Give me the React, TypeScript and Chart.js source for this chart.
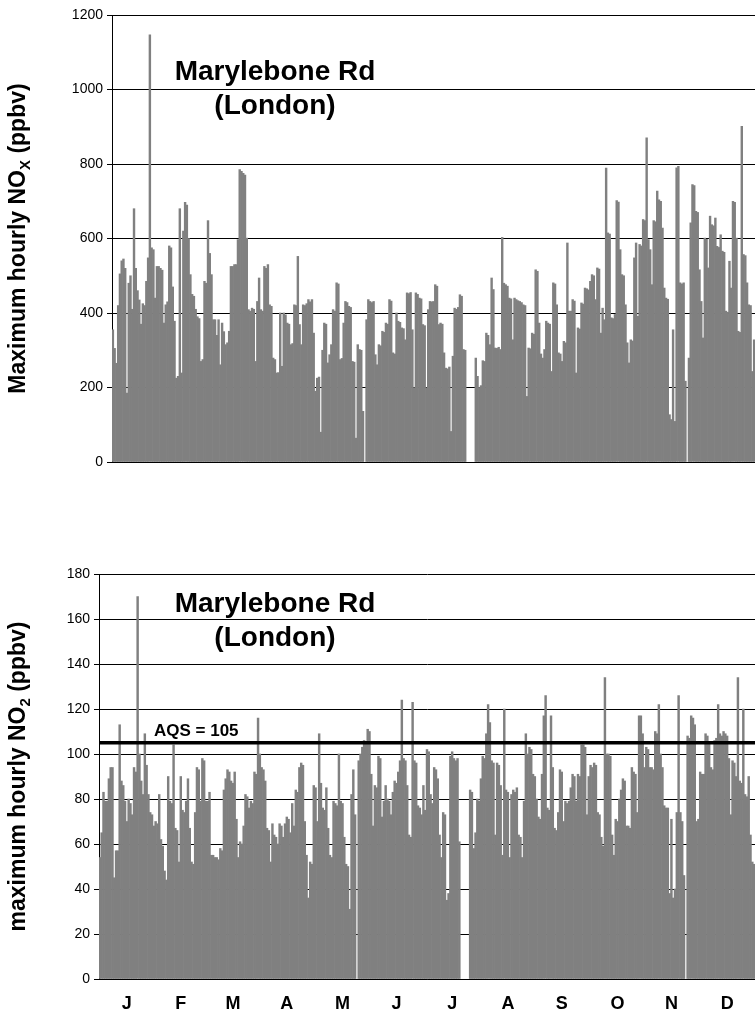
import React, { useEffect, useRef } from 'react';
import { Chart, registerables } from 'chart.js';

Chart.register(...registerables);

const FONT = '"Liberation Sans", Arial, Helvetica, sans-serif';

// ---------- Daily maximum hourly NOx (ppbv), Marylebone Rd ----------
const noxJan = [355, 305, 265, 420, 505, 540, 545, 520, 185, 480, 500, 410, 680, 520, 460, 435, 370, 425, 420, 485, 548, 1147, 575, 570, 440, 525, 525, 520, 515, 373, 422];
const noxFeb = [430, 580, 575, 470, 378, 225, 230, 680, 239, 620, 697, 690, 600, 503, 450, 445, 410, 390, 385, 270, 275, 485, 480, 648, 560, 503, 382, 382];
const noxMar = [340, 382, 261, 373, 350, 315, 320, 351, 525, 525, 530, 530, 597, 785, 780, 775, 770, 601, 409, 405, 413, 410, 270, 431, 494, 409, 405, 525, 520, 530, 422];
const noxApr = [418, 279, 275, 239, 240, 400, 257, 400, 395, 373, 370, 315, 318, 422, 420, 552, 369, 315, 422, 420, 425, 436, 430, 436, 346, 190, 225, 228, 80, 300];
const noxMay = [373, 370, 266, 288, 315, 409, 405, 481, 478, 275, 278, 373, 431, 428, 418, 415, 270, 268, 64, 315, 302, 300, 136, null, 382, 436, 431, 428, 431, 288, 261];
const noxJun = [315, 312, 351, 348, 373, 370, 436, 432, 293, 290, 400, 378, 375, 360, 358, 328, 454, 452, 455, 355, 199, 454, 450, 440, 438, 369, 366, 199, 409, 431];
const noxJul = [430, 431, 476, 472, 369, 373, 370, 293, 252, 250, 255, 82, 284, 413, 410, 415, 449, 445, 302, 300, null, null, null, null, null, 279, 230, 200, 205, 272, 270];
const noxAug = [346, 340, 315, 494, 463, 306, 305, 308, 302, 603, 480, 476, 472, 440, 438, 328, 440, 436, 433, 431, 428, 422, 420, 176, 306, 304, 346, 343, 516, 512, 373];
const noxSep = [290, 279, 302, 378, 373, 370, 243, 481, 478, 422, 293, 290, 270, 324, 320, 588, 405, 405, 436, 432, 239, 360, 357, 427, 424, 467, 465, 462, 485, 503];
const noxOct = [500, 436, 521, 518, 346, 413, 382, 789, 615, 612, 387, 385, 396, 702, 698, 570, 503, 500, 422, 320, 266, 328, 325, 548, 588, 391, 584, 580, 651, 648, 870];
const noxNov = [597, 570, 476, 648, 645, 727, 704, 700, 628, 467, 440, 437, 127, 114, 355, 109, 790, 794, 481, 478, 481, 217, null, 279, 642, 745, 742, 673, 670, 516];
const noxDec = [431, 333, 601, 598, 521, 660, 637, 634, 655, 579, 576, 610, 566, 563, 405, 402, 539, 467, 700, 697, 601, 351, 348, 901, 557, 554, 481, 422, 420, 243, 328];

// ---------- Daily maximum hourly NO2 (ppbv), Marylebone Rd ----------
const no2Jan = [54, 65, 83, 79, 79, 89, 94, 94, 45, 57, 57, 113, 88, 86, 79, 70, 80, 78, 73, 94, 92, 170, 100, 88, 82, 109, 95, 82, 74, 73, 68];
const no2Feb = [70, 69, 82, 62, 59, 48, 44, 90, 79, 78, 104, 67, 66, 52, 90, 75, 74, 79, 89, 67, 52, 51, 74, 94, 93, 79, 98, 97];
const no2Mar = [79, 79, 83, 55, 55, 54, 54, 53, 58, 57, 84, 89, 93, 92, 88, 87, 92, 71, 54, 61, 60, 68, 82, 81, 76, 79, 78, 92, 91, 116, 100];
const no2Apr = [94, 93, 88, 67, 66, 52, 69, 64, 63, 60, 69, 68, 63, 69, 72, 71, 65, 78, 68, 84, 83, 94, 96, 95, 70, 55, 36, 52, 51, 86];
const no2May = [85, 70, 109, 87, 76, 75, 85, 67, 55, 54, 79, 78, 77, 100, 79, 78, 63, 51, 50, 31, 82, 93, 73, null, 97, 100, 103, 106, 105, 111, 110];
const no2Jun = [91, 68, 86, 85, 99, 98, 72, 79, 86, 80, 79, 73, 83, 88, 87, 92, 97, 124, 98, 97, 86, 64, 63, 123, 97, 96, 77, 76, 73, 86];
const no2Jul = [75, 102, 101, 82, 78, 94, 93, 89, 64, 54, 74, 73, 35, 38, 99, 101, 98, 97, 98, 61, null, null, null, null, null, 84, 83, 58, 65, 80, 79];
const no2Aug = [89, 99, 98, 109, 122, 114, 97, 96, 64, 96, 95, 86, 55, 120, 84, 83, 54, 82, 84, 83, 85, 64, 63, 54, 79, 109, 100, 103, 102, 91, 90];
const no2Sep = [80, 72, 71, 91, 117, 126, 76, 75, 117, 94, 67, 66, 74, 93, 92, 70, 79, 78, 79, 85, 91, 90, 79, 91, 90, 104, 104, 103, 73, 90];
const no2Oct = [95, 94, 96, 95, 74, 73, 63, 59, 134, 100, 100, 99, 64, 55, 71, 70, 80, 84, 89, 88, 68, 68, 67, 94, 92, 91, 74, 117, 117, 109, 94];
const no2Nov = [103, 102, 94, 94, 93, 110, 109, 122, 100, 94, 77, 76, 76, 38, 71, 36, 40, 74, 126, 74, 70, 46, null, 108, 107, 117, 116, 113, 70, 71];
const no2Dec = [92, 91, 91, 109, 108, 105, 94, 93, 106, 107, 122, 109, 108, 110, 109, 108, 98, 73, 97, 96, 90, 134, 88, 87, 120, 82, 81, 90, 64, 52, 51];

// ---------- Axis / label data ----------
const monthLetters = ['J', 'F', 'M', 'A', 'M', 'J', 'J', 'A', 'S', 'O', 'N', 'D'];
const monthTickDays = [15, 45, 74, 104, 135, 165, 196, 227, 257, 288, 318, 349];
const noxAxis = { max: 1200, step: 200 };
const no2Axis = { max: 180, step: 20 };
const AQS = 105;
const siteTitle = ['Marylebone Rd', '(London)'];

const nox = [...noxJan, ...noxFeb, ...noxMar, ...noxApr, ...noxMay, ...noxJun, ...noxJul, ...noxAug, ...noxSep, ...noxOct, ...noxNov, ...noxDec];
const no2 = [...no2Jan, ...no2Feb, ...no2Mar, ...no2Apr, ...no2May, ...no2Jun, ...no2Jul, ...no2Aug, ...no2Sep, ...no2Oct, ...no2Nov, ...no2Dec];
const dayLabels = nox.map((_, i) => String(i + 1));

type Part = { text: string; sub?: boolean };

function drawRotatedTitle(ctx: CanvasRenderingContext2D, parts: Part[], cx: number, cy: number, size: number) {
  ctx.save();
  ctx.translate(cx, cy);
  ctx.rotate(-Math.PI / 2);
  const mainFont = `bold ${size}px ${FONT}`;
  const subFont = `bold ${Math.round(size * 0.66)}px ${FONT}`;
  let total = 0;
  const widths = parts.map((p) => {
    ctx.font = p.sub ? subFont : mainFont;
    const w = ctx.measureText(p.text).width;
    total += w;
    return w;
  });
  let x = -total / 2;
  ctx.fillStyle = '#000';
  ctx.textAlign = 'left';
  ctx.textBaseline = 'alphabetic';
  parts.forEach((p, i) => {
    ctx.font = p.sub ? subFont : mainFont;
    ctx.fillText(p.text, x, p.sub ? size * 0.2 : 0);
    x += widths[i];
  });
  ctx.restore();
}

interface PanelCfg {
  data: (number | null)[];
  yMax: number;
  yStep: number;
  areaLeft: number;
  areaTop: number;
  xHeight: number;
  showMonths: boolean;
  yTitle: Part[];
  yTitleX: number;
  titleX: number;
  titleY: [number, number];
  aqs?: number;
}

function makeConfig(p: PanelCfg): any {
  const overlay = {
    id: 'overlay',
    afterDatasetsDraw(chart: any) {
      const ctx: CanvasRenderingContext2D = chart.ctx;
      const area = chart.chartArea;
      const yScale = chart.scales.y;
      ctx.save();
      if (p.aqs !== undefined) {
        const y = yScale.getPixelForValue(p.aqs);
        ctx.strokeStyle = '#000';
        ctx.lineWidth = 3.5;
        ctx.beginPath();
        ctx.moveTo(area.left, y);
        ctx.lineTo(area.right, y);
        ctx.stroke();
        ctx.fillStyle = '#000';
        ctx.font = `bold 17px ${FONT}`;
        ctx.textAlign = 'left';
        ctx.textBaseline = 'alphabetic';
        ctx.fillText(`AQS = ${p.aqs}`, 154, y - 7);
      }
      ctx.fillStyle = '#000';
      ctx.font = `bold 28px ${FONT}`;
      ctx.textAlign = 'center';
      ctx.textBaseline = 'alphabetic';
      ctx.fillText(siteTitle[0], p.titleX, p.titleY[0]);
      ctx.fillText(siteTitle[1], p.titleX, p.titleY[1]);
      ctx.restore();
    },
    afterDraw(chart: any) {
      const area = chart.chartArea;
      drawRotatedTitle(chart.ctx, p.yTitle, p.yTitleX, (area.top + area.bottom) / 2, 23);
    },
  };

  return {
    type: 'bar',
    data: {
      labels: dayLabels,
      datasets: [
        {
          data: p.data,
          backgroundColor: '#808080',
          borderWidth: 0,
          barPercentage: 1,
          categoryPercentage: 1,
        },
      ],
    },
    options: {
      responsive: false,
      animation: false,
      devicePixelRatio: 1,
      layout: { padding: { top: p.areaTop, right: 0, left: 0, bottom: 0 } },
      plugins: { legend: { display: false }, tooltip: { enabled: false }, title: { display: false } },
      scales: {
        x: {
          type: 'category',
          offset: true,
          grid: { display: false, drawTicks: false },
          border: { display: true, color: '#000', width: 1 },
          ticks: {
            display: p.showMonths,
            autoSkip: false,
            maxRotation: 0,
            minRotation: 0,
            padding: 14,
            color: '#000',
            font: { family: FONT, size: 18, weight: 'bold' },
            callback: (value: number) => {
              const k = monthTickDays.indexOf(value);
              return k >= 0 ? monthLetters[k] : '';
            },
          },
          afterBuildTicks: (scale: any) => {
            if (p.showMonths) scale.ticks = monthTickDays.map((v) => ({ value: v }));
          },
          afterFit: (scale: any) => {
            scale.height = p.xHeight;
          },
        },
        y: {
          type: 'linear',
          min: 0,
          max: p.yMax,
          ticks: {
            stepSize: p.yStep,
            color: '#000',
            padding: 4,
            font: { family: FONT, size: 14 },
            callback: (value: number) => String(value),
          },
          grid: { color: '#000', lineWidth: 1, tickLength: 5, drawTicks: true },
          border: { display: true, color: '#000', width: 1 },
          afterFit: (scale: any) => {
            scale.width = p.areaLeft;
          },
        },
      },
    },
    plugins: [overlay],
  };
}

export default function App() {
  const topRef = useRef<HTMLCanvasElement>(null);
  const botRef = useRef<HTMLCanvasElement>(null);

  useEffect(() => {
    const top = new Chart(
      topRef.current as HTMLCanvasElement,
      makeConfig({
        data: nox,
        yMax: noxAxis.max,
        yStep: noxAxis.step,
        areaLeft: 112,
        areaTop: 15,
        xHeight: 38,
        showMonths: false,
        yTitle: [{ text: 'Maximum hourly NO' }, { text: 'X', sub: true }, { text: ' (ppbv)' }],
        yTitleX: 25,
        titleX: 275,
        titleY: [80, 114],
      })
    );
    const bottom = new Chart(
      botRef.current as HTMLCanvasElement,
      makeConfig({
        data: no2,
        yMax: no2Axis.max,
        yStep: no2Axis.step,
        areaLeft: 99,
        areaTop: 54,
        xHeight: 53,
        showMonths: true,
        yTitle: [{ text: 'maximum hourly NO' }, { text: '2', sub: true }, { text: ' (ppbv)' }],
        yTitleX: 25,
        titleX: 275,
        titleY: [92, 126],
        aqs: AQS,
      })
    );
    return () => {
      top.destroy();
      bottom.destroy();
    };
  }, []);

  return (
    <div style={{ position: 'absolute', left: 0, top: 0, width: 755, height: 1032, background: '#fff', overflow: 'hidden' }}>
      <canvas
        ref={topRef}
        width={755}
        height={500}
        style={{ position: 'absolute', left: 0, top: 0, width: 755, height: 500 }}
      />
      <canvas
        ref={botRef}
        width={755}
        height={512}
        style={{ position: 'absolute', left: 0, top: 520, width: 755, height: 512 }}
      />
    </div>
  );
}
